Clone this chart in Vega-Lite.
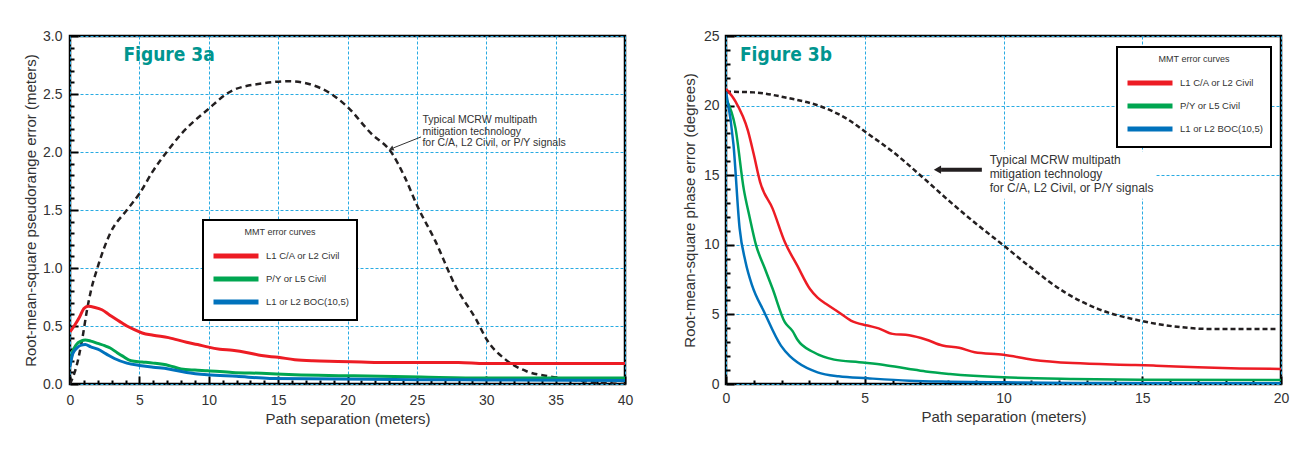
{
  "$schema": "https://vega.github.io/schema/vega-lite/v6.json",
  "padding": {"left": 22, "top": 27, "right": 20, "bottom": 5},
  "spacing": 46,
  "background": "white",
  "resolve": {"scale": {"color": "independent"}, "legend": {"color": "independent"}},
  "config": {
    "font": "Liberation Sans",
    "view": {"stroke": "black", "strokeWidth": 2.5},
    "axis": {
      "domain": false,
      "labelFontSize": 14,
      "labelColor": "#333333",
      "titleFontSize": 15,
      "titleFontWeight": "normal",
      "titleColor": "#333333",
      "gridColor": "#29abe2",
      "gridDash": [3, 2],
      "gridWidth": 1,
      "tickColor": "black",
      "tickWidth": 2,
      "tickCount": 200,
      "labelOverlap": false,
      "labelFlush": false
    },
    "legend": {
      "orient": "none",
      "titleAnchor": "middle",
      "titleFontSize": 9,
      "titleFontWeight": "normal",
      "titleColor": "#333333",
      "titlePadding": 9,
      "labelFontSize": 9.5,
      "labelColor": "#333333",
      "symbolType": "M-1,0H5",
      "symbolSize": 225,
      "symbolStrokeWidth": 5,
      "labelOffset": 35,
      "rowPadding": 3,
      "padding": 8,
      "fillColor": "white",
      "strokeColor": "black",
      "strokeWidth": 2
    }
  },
  "datasets": {
    "a_curves": [
      {"s": "L1 C/A or L2 Civil", "x": 0, "y": 0.45}, {"s": "L1 C/A or L2 Civil", "x": 0.3, "y": 0.5}, {"s": "L1 C/A or L2 Civil", "x": 0.7, "y": 0.58}, {"s": "L1 C/A or L2 Civil", "x": 1.0, "y": 0.65}, {"s": "L1 C/A or L2 Civil", "x": 1.3, "y": 0.67}, {"s": "L1 C/A or L2 Civil", "x": 1.8, "y": 0.66}, {"s": "L1 C/A or L2 Civil", "x": 2.3, "y": 0.64}, {"s": "L1 C/A or L2 Civil", "x": 2.8, "y": 0.6}, {"s": "L1 C/A or L2 Civil", "x": 3.3, "y": 0.56}, {"s": "L1 C/A or L2 Civil", "x": 3.7, "y": 0.53}, {"s": "L1 C/A or L2 Civil", "x": 4.1, "y": 0.5}, {"s": "L1 C/A or L2 Civil", "x": 4.6, "y": 0.47}, {"s": "L1 C/A or L2 Civil", "x": 5.2, "y": 0.44}, {"s": "L1 C/A or L2 Civil", "x": 6, "y": 0.42}, {"s": "L1 C/A or L2 Civil", "x": 7.1, "y": 0.4}, {"s": "L1 C/A or L2 Civil", "x": 8.4, "y": 0.36}, {"s": "L1 C/A or L2 Civil", "x": 9.2, "y": 0.34}, {"s": "L1 C/A or L2 Civil", "x": 9.9, "y": 0.32}, {"s": "L1 C/A or L2 Civil", "x": 10.8, "y": 0.3}, {"s": "L1 C/A or L2 Civil", "x": 11.7, "y": 0.29}, {"s": "L1 C/A or L2 Civil", "x": 12.8, "y": 0.27}, {"s": "L1 C/A or L2 Civil", "x": 13.8, "y": 0.245}, {"s": "L1 C/A or L2 Civil", "x": 15, "y": 0.23}, {"s": "L1 C/A or L2 Civil", "x": 16.2, "y": 0.21}, {"s": "L1 C/A or L2 Civil", "x": 17.5, "y": 0.2}, {"s": "L1 C/A or L2 Civil", "x": 19.3, "y": 0.195}, {"s": "L1 C/A or L2 Civil", "x": 21, "y": 0.19}, {"s": "L1 C/A or L2 Civil", "x": 22.3, "y": 0.186}, {"s": "L1 C/A or L2 Civil", "x": 28, "y": 0.186}, {"s": "L1 C/A or L2 Civil", "x": 29.9, "y": 0.176}, {"s": "L1 C/A or L2 Civil", "x": 40, "y": 0.176},
      {"s": "P/Y or L5 Civil", "x": 0, "y": 0.17}, {"s": "P/Y or L5 Civil", "x": 0.2, "y": 0.28}, {"s": "P/Y or L5 Civil", "x": 0.46, "y": 0.34}, {"s": "P/Y or L5 Civil", "x": 0.8, "y": 0.37}, {"s": "P/Y or L5 Civil", "x": 1.1, "y": 0.38}, {"s": "P/Y or L5 Civil", "x": 1.5, "y": 0.37}, {"s": "P/Y or L5 Civil", "x": 2, "y": 0.35}, {"s": "P/Y or L5 Civil", "x": 2.5, "y": 0.33}, {"s": "P/Y or L5 Civil", "x": 2.9, "y": 0.31}, {"s": "P/Y or L5 Civil", "x": 3.4, "y": 0.27}, {"s": "P/Y or L5 Civil", "x": 3.8, "y": 0.24}, {"s": "P/Y or L5 Civil", "x": 4.4, "y": 0.2}, {"s": "P/Y or L5 Civil", "x": 5.2, "y": 0.19}, {"s": "P/Y or L5 Civil", "x": 6, "y": 0.18}, {"s": "P/Y or L5 Civil", "x": 7.1, "y": 0.16}, {"s": "P/Y or L5 Civil", "x": 8, "y": 0.13}, {"s": "P/Y or L5 Civil", "x": 9, "y": 0.12}, {"s": "P/Y or L5 Civil", "x": 9.9, "y": 0.115}, {"s": "P/Y or L5 Civil", "x": 11.7, "y": 0.1}, {"s": "P/Y or L5 Civil", "x": 13.8, "y": 0.092}, {"s": "P/Y or L5 Civil", "x": 16.2, "y": 0.08}, {"s": "P/Y or L5 Civil", "x": 19.9, "y": 0.072}, {"s": "P/Y or L5 Civil", "x": 25.3, "y": 0.06}, {"s": "P/Y or L5 Civil", "x": 29.9, "y": 0.052}, {"s": "P/Y or L5 Civil", "x": 40, "y": 0.052},
      {"s": "L1 or L2 BOC(10,5)", "x": 0, "y": 0.15}, {"s": "L1 or L2 BOC(10,5)", "x": 0.2, "y": 0.26}, {"s": "L1 or L2 BOC(10,5)", "x": 0.5, "y": 0.31}, {"s": "L1 or L2 BOC(10,5)", "x": 0.8, "y": 0.335}, {"s": "L1 or L2 BOC(10,5)", "x": 1.1, "y": 0.34}, {"s": "L1 or L2 BOC(10,5)", "x": 1.5, "y": 0.32}, {"s": "L1 or L2 BOC(10,5)", "x": 2, "y": 0.3}, {"s": "L1 or L2 BOC(10,5)", "x": 2.6, "y": 0.26}, {"s": "L1 or L2 BOC(10,5)", "x": 3.2, "y": 0.22}, {"s": "L1 or L2 BOC(10,5)", "x": 4.1, "y": 0.18}, {"s": "L1 or L2 BOC(10,5)", "x": 5, "y": 0.16}, {"s": "L1 or L2 BOC(10,5)", "x": 6, "y": 0.145}, {"s": "L1 or L2 BOC(10,5)", "x": 7.1, "y": 0.13}, {"s": "L1 or L2 BOC(10,5)", "x": 8.4, "y": 0.1}, {"s": "L1 or L2 BOC(10,5)", "x": 9.9, "y": 0.08}, {"s": "L1 or L2 BOC(10,5)", "x": 12, "y": 0.066}, {"s": "L1 or L2 BOC(10,5)", "x": 14.4, "y": 0.048}, {"s": "L1 or L2 BOC(10,5)", "x": 19.3, "y": 0.043}, {"s": "L1 or L2 BOC(10,5)", "x": 25, "y": 0.037}, {"s": "L1 or L2 BOC(10,5)", "x": 30, "y": 0.035}, {"s": "L1 or L2 BOC(10,5)", "x": 40, "y": 0.03}
    ],
    "a_mcrw": [
      {"x": 0, "y": 0}, {"x": 0.46, "y": 0.15}, {"x": 0.9, "y": 0.4}, {"x": 1.2, "y": 0.62}, {"x": 1.5, "y": 0.8}, {"x": 2, "y": 1.01}, {"x": 2.9, "y": 1.3}, {"x": 4.1, "y": 1.5}, {"x": 5, "y": 1.64}, {"x": 6, "y": 1.84}, {"x": 7.1, "y": 2.02}, {"x": 8.05, "y": 2.16}, {"x": 9.87, "y": 2.36}, {"x": 11.7, "y": 2.53}, {"x": 13.8, "y": 2.59}, {"x": 15.8, "y": 2.61}, {"x": 18.07, "y": 2.55}, {"x": 19.9, "y": 2.4}, {"x": 21.7, "y": 2.16}, {"x": 23.2, "y": 1.99}, {"x": 24.1, "y": 1.79}, {"x": 25.05, "y": 1.53}, {"x": 26.3, "y": 1.24}, {"x": 27.8, "y": 0.84}, {"x": 29.3, "y": 0.55}, {"x": 30.05, "y": 0.38}, {"x": 31.4, "y": 0.21}, {"x": 32.9, "y": 0.11}, {"x": 34.5, "y": 0.066}, {"x": 36, "y": 0.04}, {"x": 38.1, "y": 0.01}, {"x": 40, "y": 0.0}
    ],
    "a_text": [
      {"x": 25.4, "y": 2.28, "t": "Typical MCRW multipath"},
      {"x": 25.4, "y": 2.175, "t": "mitigation technology"},
      {"x": 25.4, "y": 2.075, "t": "for C/A, L2 Civil, or P/Y signals"}
    ],
    "a_arrow": [{"x": 25.3, "y": 2.13, "x2": 23.3, "y2": 2.035}],
    "a_head": [{"x": 23.2, "y": 2.03}],
    "a_fig": [{"x": 3.85, "y": 2.84, "t": "Figure 3a"}],
    "b_curves": [
      {"s": "L1 C/A or L2 Civil", "x": 0, "y": 21.2}, {"s": "L1 C/A or L2 Civil", "x": 0.34, "y": 20.3}, {"s": "L1 C/A or L2 Civil", "x": 0.79, "y": 18.2}, {"s": "L1 C/A or L2 Civil", "x": 1.0, "y": 16.5}, {"s": "L1 C/A or L2 Civil", "x": 1.23, "y": 14.5}, {"s": "L1 C/A or L2 Civil", "x": 1.68, "y": 12.6}, {"s": "L1 C/A or L2 Civil", "x": 2.12, "y": 10.2}, {"s": "L1 C/A or L2 Civil", "x": 2.57, "y": 8.5}, {"s": "L1 C/A or L2 Civil", "x": 3.02, "y": 6.84}, {"s": "L1 C/A or L2 Civil", "x": 3.3, "y": 6.2}, {"s": "L1 C/A or L2 Civil", "x": 3.6, "y": 5.76}, {"s": "L1 C/A or L2 Civil", "x": 4.06, "y": 5.16}, {"s": "L1 C/A or L2 Civil", "x": 4.5, "y": 4.56}, {"s": "L1 C/A or L2 Civil", "x": 5.1, "y": 4.2}, {"s": "L1 C/A or L2 Civil", "x": 5.5, "y": 4.0}, {"s": "L1 C/A or L2 Civil", "x": 6.0, "y": 3.6}, {"s": "L1 C/A or L2 Civil", "x": 6.6, "y": 3.5}, {"s": "L1 C/A or L2 Civil", "x": 7.2, "y": 3.2}, {"s": "L1 C/A or L2 Civil", "x": 7.8, "y": 2.76}, {"s": "L1 C/A or L2 Civil", "x": 8.4, "y": 2.6}, {"s": "L1 C/A or L2 Civil", "x": 8.96, "y": 2.28}, {"s": "L1 C/A or L2 Civil", "x": 10, "y": 2.1}, {"s": "L1 C/A or L2 Civil", "x": 11.04, "y": 1.75}, {"s": "L1 C/A or L2 Civil", "x": 12.5, "y": 1.5}, {"s": "L1 C/A or L2 Civil", "x": 14.75, "y": 1.37}, {"s": "L1 C/A or L2 Civil", "x": 15.5, "y": 1.32}, {"s": "L1 C/A or L2 Civil", "x": 17, "y": 1.2}, {"s": "L1 C/A or L2 Civil", "x": 18.5, "y": 1.12}, {"s": "L1 C/A or L2 Civil", "x": 20, "y": 1.08},
      {"s": "P/Y or L5 Civil", "x": 0, "y": 20.5}, {"s": "P/Y or L5 Civil", "x": 0.34, "y": 18.4}, {"s": "P/Y or L5 Civil", "x": 0.64, "y": 14}, {"s": "P/Y or L5 Civil", "x": 0.85, "y": 12}, {"s": "P/Y or L5 Civil", "x": 1.08, "y": 10}, {"s": "P/Y or L5 Civil", "x": 1.4, "y": 8.3}, {"s": "P/Y or L5 Civil", "x": 1.68, "y": 6.84}, {"s": "P/Y or L5 Civil", "x": 2.12, "y": 4.44}, {"s": "P/Y or L5 Civil", "x": 2.4, "y": 3.8}, {"s": "P/Y or L5 Civil", "x": 2.57, "y": 3.2}, {"s": "P/Y or L5 Civil", "x": 3.16, "y": 2.28}, {"s": "P/Y or L5 Civil", "x": 3.9, "y": 1.75}, {"s": "P/Y or L5 Civil", "x": 4.8, "y": 1.56}, {"s": "P/Y or L5 Civil", "x": 5.7, "y": 1.37}, {"s": "P/Y or L5 Civil", "x": 6.6, "y": 1.08}, {"s": "P/Y or L5 Civil", "x": 7.2, "y": 0.9}, {"s": "P/Y or L5 Civil", "x": 8.07, "y": 0.72}, {"s": "P/Y or L5 Civil", "x": 10, "y": 0.48}, {"s": "P/Y or L5 Civil", "x": 12.5, "y": 0.36}, {"s": "P/Y or L5 Civil", "x": 14.9, "y": 0.31}, {"s": "P/Y or L5 Civil", "x": 20, "y": 0.29},
      {"s": "L1 or L2 BOC(10,5)", "x": 0, "y": 21}, {"s": "L1 or L2 BOC(10,5)", "x": 0.27, "y": 17.2}, {"s": "L1 or L2 BOC(10,5)", "x": 0.49, "y": 11.2}, {"s": "L1 or L2 BOC(10,5)", "x": 0.7, "y": 8.8}, {"s": "L1 or L2 BOC(10,5)", "x": 0.94, "y": 7.08}, {"s": "L1 or L2 BOC(10,5)", "x": 1.38, "y": 5.16}, {"s": "L1 or L2 BOC(10,5)", "x": 1.98, "y": 2.76}, {"s": "L1 or L2 BOC(10,5)", "x": 2.3, "y": 2.0}, {"s": "L1 or L2 BOC(10,5)", "x": 2.57, "y": 1.56}, {"s": "L1 or L2 BOC(10,5)", "x": 3.3, "y": 0.84}, {"s": "L1 or L2 BOC(10,5)", "x": 4.06, "y": 0.55}, {"s": "L1 or L2 BOC(10,5)", "x": 5.1, "y": 0.41}, {"s": "L1 or L2 BOC(10,5)", "x": 6.6, "y": 0.24}, {"s": "L1 or L2 BOC(10,5)", "x": 8, "y": 0.17}, {"s": "L1 or L2 BOC(10,5)", "x": 10, "y": 0.12}, {"s": "L1 or L2 BOC(10,5)", "x": 12.5, "y": 0.07}, {"s": "L1 or L2 BOC(10,5)", "x": 20, "y": 0.05}
    ],
    "b_mcrw": [
      {"x": 0, "y": 21.0}, {"x": 1, "y": 20.95}, {"x": 2.1, "y": 20.6}, {"x": 3.6, "y": 19.8}, {"x": 4.4, "y": 19.0}, {"x": 5.1, "y": 18.0}, {"x": 6.0, "y": 16.7}, {"x": 7.0, "y": 15.0}, {"x": 8.07, "y": 13.1}, {"x": 8.96, "y": 11.6}, {"x": 10, "y": 9.96}, {"x": 11.04, "y": 8.28}, {"x": 12.2, "y": 6.6}, {"x": 13.4, "y": 5.4}, {"x": 14.9, "y": 4.56}, {"x": 16.4, "y": 4.08}, {"x": 17.3, "y": 3.96}, {"x": 19.8, "y": 3.96}
    ],
    "b_box": [{"x": 7.4, "x2": 15.5, "y": 13.3, "y2": 16.7}],
    "b_text": [
      {"x": 9.5, "y": 16.1, "t": "Typical MCRW multipath"},
      {"x": 9.5, "y": 15.08, "t": "mitigation technology"},
      {"x": 9.5, "y": 14.1, "t": "for C/A, L2 Civil, or P/Y signals"}
    ],
    "b_arrow": [{"x": 9.22, "y": 15.4, "x2": 7.75, "y2": 15.4}],
    "b_head": [{"x": 7.62, "y": 15.4}],
    "b_fig": [{"x": 0.5, "y": 23.6, "t": "Figure 3b"}]
  },
  "hconcat": [
    {
      "width": 555,
      "height": 348,
      "layer": [
        {
          "data": {"name": "a_mcrw"},
          "mark": {"type": "line", "color": "#231f20", "strokeWidth": 2.5, "strokeDash": [6, 4], "interpolate": "monotone", "clip": true},
          "encoding": {
            "x": {
              "field": "x", "type": "quantitative",
              "scale": {"domain": [0, 40], "nice": false, "zero": false},
              "title": "Path separation (meters)",
              "axis": {
                "values": [0,1,2,3,4,5,6,7,8,9,10,11,12,13,14,15,16,17,18,19,20,21,22,23,24,25,26,27,28,29,30,31,32,33,34,35,36,37,38,39,40],
                "labelExpr": "datum.value % 5 === 0 ? format(datum.value, 'd') : ''",
                "gridOpacity": {"condition": {"test": "datum.value % 5 === 0", "value": 1}, "value": 0},
                "tickSize": {"condition": {"test": "datum.value % 5 === 0", "value": -8}, "value": -4},
                "labelPadding": 17,
                "titlePadding": 0
              }
            },
            "y": {
              "field": "y", "type": "quantitative",
              "scale": {"domain": [0, 3], "nice": false},
              "title": "Root-mean-square pseudorange error (meters)",
              "axis": {
                "values": [0,0.1,0.2,0.3,0.4,0.5,0.6,0.7,0.8,0.9,1,1.1,1.2,1.3,1.4,1.5,1.6,1.7,1.8,1.9,2,2.1,2.2,2.3,2.4,2.5,2.6,2.7,2.8,2.9,3],
                "labelExpr": "abs(datum.value*2 - round(datum.value*2)) < 0.001 ? format(datum.value, '.1f') : ''",
                "gridOpacity": {"condition": {"test": "abs(datum.value*2 - round(datum.value*2)) < 0.001", "value": 1}, "value": 0},
                "tickSize": {"condition": {"test": "abs(datum.value*2 - round(datum.value*2)) < 0.001", "value": -8}, "value": -4},
                "labelPadding": 16,
                "titlePadding": 4
              }
            }
          }
        },
        {
          "data": {"name": "a_curves"},
          "mark": {"type": "line", "strokeWidth": 3, "interpolate": "monotone", "clip": true},
          "encoding": {
            "x": {"field": "x", "type": "quantitative"},
            "y": {"field": "y", "type": "quantitative"},
            "color": {
              "field": "s", "type": "nominal",
              "scale": {"domain": ["L1 C/A or L2 Civil", "P/Y or L5 Civil", "L1 or L2 BOC(10,5)"], "range": ["#ed1c24", "#00a651", "#0072bc"]},
              "legend": {"title": "MMT error curves", "legendX": 133, "legendY": 184}
            }
          }
        },
        {
          "data": {"name": "a_arrow"},
          "mark": {"type": "rule", "color": "#333333", "strokeWidth": 1},
          "encoding": {
            "x": {"field": "x", "type": "quantitative"},
            "y": {"field": "y", "type": "quantitative"},
            "x2": {"field": "x2"},
            "y2": {"field": "y2"}
          }
        },
        {
          "data": {"name": "a_head"},
          "mark": {"type": "point", "shape": "triangle", "angle": 248, "size": 30, "filled": true, "color": "#333333", "opacity": 1},
          "encoding": {
            "x": {"field": "x", "type": "quantitative"},
            "y": {"field": "y", "type": "quantitative"}
          }
        },
        {
          "data": {"name": "a_text"},
          "mark": {"type": "text", "align": "left", "baseline": "middle", "fontSize": 10.5, "font": "Liberation Sans", "color": "#333333"},
          "encoding": {
            "x": {"field": "x", "type": "quantitative"},
            "y": {"field": "y", "type": "quantitative"},
            "text": {"field": "t"}
          }
        },
        {
          "data": {"name": "a_fig"},
          "mark": {"type": "text", "align": "left", "baseline": "middle", "fontSize": 19, "fontWeight": "bold", "font": "DejaVu Sans Condensed, Roboto, sans-serif", "color": "#00958f"},
          "encoding": {
            "x": {"field": "x", "type": "quantitative"},
            "y": {"field": "y", "type": "quantitative"},
            "text": {"field": "t"}
          }
        }
      ]
    },
    {
      "width": 555,
      "height": 348,
      "layer": [
        {
          "data": {"name": "b_box"},
          "mark": {"type": "rect", "fill": "white"},
          "encoding": {
            "x": {
              "field": "x", "type": "quantitative",
              "scale": {"domain": [0, 20], "nice": false, "zero": false},
              "title": "Path separation (meters)",
              "axis": {
                "values": [0,1,2,3,4,5,6,7,8,9,10,11,12,13,14,15,16,17,18,19,20],
                "labelExpr": "datum.value % 5 === 0 ? format(datum.value, 'd') : ''",
                "gridOpacity": {"condition": {"test": "datum.value % 5 === 0", "value": 1}, "value": 0},
                "tickSize": {"condition": {"test": "datum.value % 5 === 0", "value": -8}, "value": -4},
                "labelPadding": 15,
                "titlePadding": 0
              }
            },
            "y": {
              "field": "y", "type": "quantitative",
              "scale": {"domain": [0, 25], "nice": false},
              "title": "Root-mean-square phase error (degrees)",
              "axis": {
                "values": [0,1,2,3,4,5,6,7,8,9,10,11,12,13,14,15,16,17,18,19,20,21,22,23,24,25],
                "labelExpr": "datum.value % 5 === 0 ? format(datum.value, 'd') : ''",
                "gridOpacity": {"condition": {"test": "datum.value % 5 === 0", "value": 1}, "value": 0},
                "tickSize": {"condition": {"test": "datum.value % 5 === 0", "value": -8}, "value": -4},
                "labelPadding": 15,
                "titlePadding": 6
              }
            },
            "x2": {"field": "x2"},
            "y2": {"field": "y2"}
          }
        },
        {
          "data": {"name": "b_mcrw"},
          "mark": {"type": "line", "color": "#231f20", "strokeWidth": 2.5, "strokeDash": [5, 3], "interpolate": "monotone", "clip": true},
          "encoding": {
            "x": {"field": "x", "type": "quantitative"},
            "y": {"field": "y", "type": "quantitative"}
          }
        },
        {
          "data": {"name": "b_curves"},
          "mark": {"type": "line", "strokeWidth": 2.5, "interpolate": "monotone", "clip": true},
          "encoding": {
            "x": {"field": "x", "type": "quantitative"},
            "y": {"field": "y", "type": "quantitative"},
            "color": {
              "field": "s", "type": "nominal",
              "scale": {"domain": ["L1 C/A or L2 Civil", "P/Y or L5 Civil", "L1 or L2 BOC(10,5)"], "range": ["#ed1c24", "#00a651", "#0072bc"]},
              "legend": {"title": "MMT error curves", "legendX": 391, "legendY": 11}
            }
          }
        },
        {
          "data": {"name": "b_arrow"},
          "mark": {"type": "rule", "color": "#231f20", "strokeWidth": 4},
          "encoding": {
            "x": {"field": "x", "type": "quantitative"},
            "y": {"field": "y", "type": "quantitative"},
            "x2": {"field": "x2"},
            "y2": {"field": "y2"}
          }
        },
        {
          "data": {"name": "b_head"},
          "mark": {"type": "point", "shape": "triangle-left", "size": 70, "filled": true, "color": "#231f20", "opacity": 1},
          "encoding": {
            "x": {"field": "x", "type": "quantitative"},
            "y": {"field": "y", "type": "quantitative"}
          }
        },
        {
          "data": {"name": "b_text"},
          "mark": {"type": "text", "align": "left", "baseline": "middle", "fontSize": 12, "font": "Liberation Sans", "color": "#333333"},
          "encoding": {
            "x": {"field": "x", "type": "quantitative"},
            "y": {"field": "y", "type": "quantitative"},
            "text": {"field": "t"}
          }
        },
        {
          "data": {"name": "b_fig"},
          "mark": {"type": "text", "align": "left", "baseline": "middle", "fontSize": 19, "fontWeight": "bold", "font": "DejaVu Sans Condensed, Roboto, sans-serif", "color": "#00958f"},
          "encoding": {
            "x": {"field": "x", "type": "quantitative"},
            "y": {"field": "y", "type": "quantitative"},
            "text": {"field": "t"}
          }
        }
      ]
    }
  ]
}
